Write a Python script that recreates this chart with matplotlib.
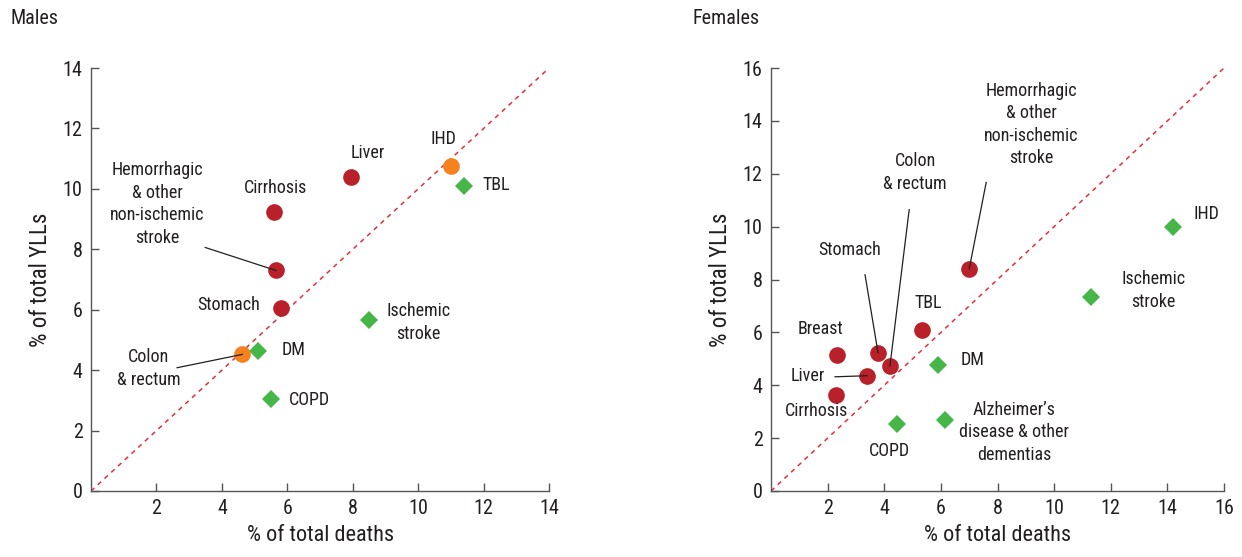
import numpy as np
import matplotlib
matplotlib.use("Agg")
import matplotlib.pyplot as plt

plt.rcParams['font.family'] = ['Roboto Condensed', 'Liberation Sans', 'DejaVu Sans']

RED = '#B8202A'
ORANGE = '#F5821F'
GREEN = '#46B649'
INK = '#231F20'

# Males: % of total deaths, % of total YLLs
m_names = ['Liver', 'IHD', 'TBL', 'Cirrhosis', 'Hemorrhagic\n& other\nnon-ischemic\nstroke',
           'Stomach', 'Ischemic\nstroke', 'DM', 'Colon\n& rectum', 'COPD']
m_deaths = [7.95, 11.0, 11.4, 5.6, 5.65, 5.8, 8.5, 5.1, 4.62, 5.5]
m_ylls = [10.4, 10.75, 10.1, 9.25, 7.3, 6.05, 5.65, 4.65, 4.52, 3.05]
m_kind = ['r', 'o', 'g', 'r', 'r', 'r', 'g', 'g', 'o', 'g']

# Females
f_names = ['IHD', 'Ischemic\nstroke', 'Hemorrhagic\n& other\nnon-ischemic\nstroke', 'TBL', 'Breast',
           'Stomach', 'Colon\n& rectum', 'Liver', 'Cirrhosis', 'DM', 'COPD',
           'Alzheimer\u2019s\ndisease & other\ndementias']
f_deaths = [14.2, 11.3, 7.0, 5.35, 2.33, 3.78, 4.2, 3.4, 2.3, 5.9, 4.45, 6.15]
f_ylls = [10.0, 7.35, 8.4, 6.1, 5.15, 5.23, 4.73, 4.36, 3.64, 4.77, 2.55, 2.68]
f_kind = ['g', 'g', 'r', 'r', 'r', 'r', 'r', 'r', 'r', 'g', 'g', 'g']

# label placement: (x, y, ha, leader line start)
m_lab = [(8.47, 11.18, 'center', False), (10.76, 11.64, 'center', False),
         (11.95, 10.12, 'left', False), (5.63, 10.02, 'center', False),
         (2.02, 9.50, 'center', (3.49, 8.06)), (4.22, 6.17, 'center', False),
         (10.0, 5.57, 'center', False), (5.84, 4.68, 'left', False),
         (1.77, 4.05, 'center', (2.63, 4.08)), (6.06, 3.02, 'left', False)]
f_lab = [(14.91, 10.49, 'left', False), (13.5, 7.58, 'center', False),
         (9.19, 13.86, 'center', (7.6, 11.67)), (5.55, 7.12, 'center', False),
         (1.73, 6.14, 'center', False), (2.76, 9.13, 'center', (3.32, 8.18)),
         (5.09, 12.05, 'center', (4.88, 10.64)), (1.31, 4.36, 'center', (2.26, 4.32)),
         (1.59, 3.03, 'center', False), (6.71, 4.96, 'left', False),
         (4.2, 1.52, 'center', False), (8.59, 2.23, 'center', False)]

fig = plt.figure(figsize=(12.42, 5.57), dpi=100)
ax1 = fig.add_axes([0.0733, 0.1185, 0.3688, 0.7594])
ax2 = fig.add_axes([0.6208, 0.1185, 0.3647, 0.7594])


def draw(ax, names, xs, ys, kinds, labs, lim):
    ax.plot([0, lim], [0, lim], ls=(0, (3, 3)), color='#E0313B', lw=1.1, zorder=1)
    for n, x, y, k, lab in zip(names, xs, ys, kinds, labs):
        if k == 'g':
            ax.plot(x, y, 'D', color=GREEN, ms=9.5, mew=0, zorder=3)
        else:
            ax.plot(x, y, 'o', color=RED if k == 'r' else ORANGE, ms=12, mew=0, zorder=3)
        tx, ty, ha, line = lab
        ax.text(tx, ty, n, ha=ha, va='center', fontsize=13, color=INK,
                linespacing=1.32, zorder=5)
        if line:
            ax.plot([line[0], x], [line[1], y], color=INK, lw=0.9, zorder=4)
    ax.set_xlim(0, lim)
    ax.set_ylim(0, lim)
    ax.set_xticks(np.arange(2, lim + 1, 2))
    ax.set_yticks(np.arange(0, lim + 1, 2))
    ax.spines['top'].set_visible(False)
    ax.spines['right'].set_visible(False)
    for s in ['left', 'bottom']:
        ax.spines[s].set_color('#555555')
        ax.spines[s].set_linewidth(1.0)
    ax.tick_params(direction='in', length=6, width=1.0, color='#555555',
                   labelsize=14.5, labelcolor=INK, pad=6)
    ax.set_xlabel('% of total deaths', fontsize=16, color=INK, labelpad=5)
    ax.set_ylabel('% of total YLLs', fontsize=16.5, color=INK, labelpad=8)


draw(ax1, m_names, m_deaths, m_ylls, m_kind, m_lab, 14)
draw(ax2, f_names, f_deaths, f_ylls, f_kind, f_lab, 16)

fig.text(10 / 1242, 1 - 19 / 557, 'Males', fontsize=14.5, va='center', ha='left', color=INK)
fig.text(692 / 1242, 1 - 19 / 557, 'Females', fontsize=14.5, va='center', ha='left', color=INK)

fig.savefig('out.png', dpi=100)
